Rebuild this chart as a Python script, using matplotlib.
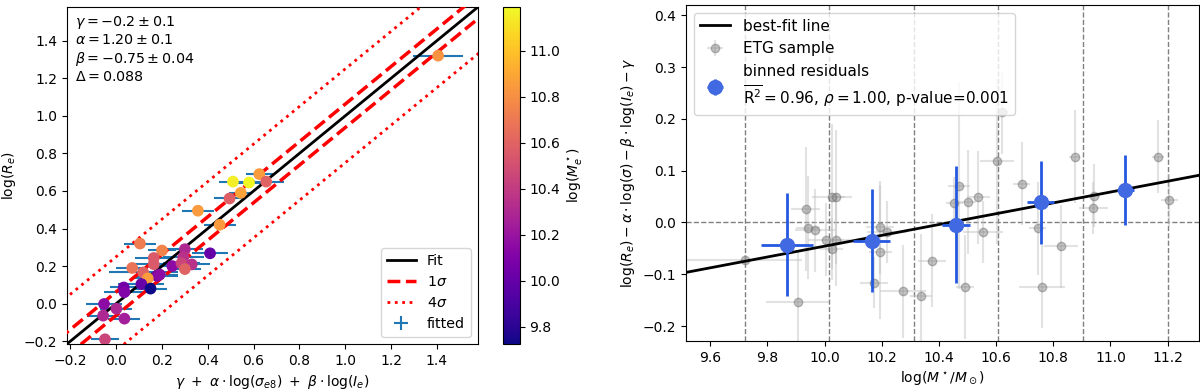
import numpy as np
import matplotlib.pyplot as plt

# Left panel: fitted plane vs observed log(Re)
fit_x = [0.51, 0.58, 0.544, 0.495, 0.357, 0.452, 0.104, 0.20, 0.30, 0.41,
         0.164, 0.293, 0.164, 0.245, 0.285, 0.33, 0.30, 0.07, 0.118, 0.178,
         0.138, 0.19, 0.11, 0.15, 0.033, 0.036, -0.053, 0.001, -0.057, 0.036,
         -0.049, 0.625, 0.655, 1.406]
fit_y = [0.65, 0.645, 0.59, 0.56, 0.495, 0.42, 0.32, 0.283, 0.29, 0.268,
         0.243, 0.247, 0.21, 0.20, 0.215, 0.209, 0.184, 0.19, 0.166, 0.148,
         0.134, 0.155, 0.104, 0.08, 0.086, 0.061, -0.002, -0.027, -0.064, -0.08,
         -0.19, 0.69, 0.65, 1.321]
fit_xerr = [0.06, 0.06, 0.05, 0.07, 0.07, 0.07, 0.07, 0.06, 0.08, 0.08,
            0.08, 0.09, 0.10, 0.09, 0.08, 0.08, 0.07, 0.07, 0.15, 0.09,
            0.07, 0.08, 0.10, 0.07, 0.06, 0.09, 0.08, 0.07, 0.07, 0.07,
            0.06, 0.06, 0.08, 0.11]
fit_yerr = [0.01, 0.01, 0.01, 0.01, 0.01, 0.01, 0.01, 0.01, 0.01, 0.01,
            0.01, 0.01, 0.01, 0.01, 0.01, 0.01, 0.01, 0.01, 0.01, 0.01,
            0.01, 0.01, 0.01, 0.02, 0.01, 0.01, 0.02, 0.02, 0.01, 0.03,
            0.03, 0.01, 0.01, 0.01]
log_mass = [11.15, 11.19, 10.88, 10.58, 10.85, 10.85, 10.72, 10.75, 10.30, 10.00,
            10.55, 10.35, 10.55, 10.15, 10.45, 10.35, 10.60, 10.68, 10.60, 10.10,
            10.85, 10.15, 10.00, 9.725, 10.05, 10.10, 10.15, 10.30, 10.30, 10.25,
            10.45, 10.85, 10.60, 10.82]
sigma = 0.0625

# Right panel: residuals vs stellar mass
etg_m = [9.72, 9.906, 9.933, 9.941, 9.965, 10.003, 10.025, 10.04, 10.04, 10.025,
         10.173, 10.194, 10.217, 10.194, 10.273, 10.337, 10.375, 10.454, 10.47, 10.50,
         10.538, 10.555, 10.491, 10.604, 10.69, 10.746, 10.76, 10.828, 10.875, 10.943,
         10.94, 11.167, 11.206, 10.62]
etg_res = [-0.072, -0.154, 0.026, -0.010, -0.015, -0.033, 0.05, 0.049, -0.033, -0.051,
           -0.116, -0.009, -0.019, -0.057, -0.133, -0.142, -0.074, 0.037, 0.071, 0.04,
           0.049, -0.019, -0.125, 0.118, 0.075, -0.011, -0.124, -0.046, 0.127, 0.052,
           0.028, 0.127, 0.044, 0.213]
etg_merr = [0.2, 0.11, 0.05, 0.04, 0.07, 0.06, 0.07, 0.03, 0.05, 0.04,
            0.05, 0.05, 0.07, 0.04, 0.08, 0.04, 0.05, 0.03, 0.04, 0.03,
            0.04, 0.07, 0.03, 0.06, 0.03, 0.03, 0.08, 0.06, 0.02, 0.02,
            0.05, 0.02, 0.03, 0.02]
etg_rerr = [0.01, 0.10, 0.12, 0.10, 0.08, 0.07, 0.14, 0.13, 0.09, 0.06,
            0.05, 0.09, 0.06, 0.13, 0.09, 0.12, 0.09, 0.05, 0.20, 0.10,
            0.09, 0.06, 0.10, 0.16, 0.08, 0.09, 0.08, 0.08, 0.09, 0.06,
            0.05, 0.07, 0.05, 0.08]

bin_edges = [9.72, 10.016, 10.312, 10.608, 10.904, 11.2]
bin_m = [9.868, 10.164, 10.46, 10.756, 11.052]
bin_res = [-0.043, -0.035, -0.004, 0.039, 0.063]
bin_merr = [0.09, 0.065, 0.05, 0.047, 0.03]
bin_rerr = [0.10, 0.10, 0.113, 0.08, 0.068]
slope, pivot = 0.1045, 10.438

fig = plt.figure(figsize=(12, 3.9), dpi=100)
ax1 = fig.add_axes([0.0558, 0.118, 0.3425, 0.864])
cax = fig.add_axes([0.419, 0.118, 0.0142, 0.864])
ax2 = fig.add_axes([0.5717, 0.1256, 0.4275, 0.8615])

lims = (-0.215, 1.58)
xx = np.array([-0.5, 2.0])
ax1.plot(xx, xx, color='black', lw=2, label='Fit', zorder=3)
ax1.plot(xx, xx + sigma, color='red', ls='--', lw=2.5, label=r'$1\sigma$', zorder=3)
ax1.plot(xx, xx - sigma, color='red', ls='--', lw=2.5, zorder=3)
ax1.plot(xx, xx + 4 * sigma, color='red', ls=':', lw=2, label=r'$4\sigma$', zorder=3)
ax1.plot(xx, xx - 4 * sigma, color='red', ls=':', lw=2, zorder=3)
ax1.errorbar(fit_x, fit_y, xerr=fit_xerr, yerr=fit_yerr, fmt='none',
             ecolor='C0', elinewidth=1.5, label='fitted', zorder=2)
sc = ax1.scatter(fit_x, fit_y, c=log_mass, cmap='plasma', s=55, zorder=4)
ax1.set_xlim(lims)
ax1.set_ylim(lims)
ax1.set_xlabel(r'$\gamma\ +\ \alpha\cdot\log(\sigma_{e8})\ +\ \beta\cdot\log(I_e)$')
ax1.set_ylabel(r'$\log(R_e)$')
ax1.text(0.02, 0.98,
         '$\\gamma = -0.2 \\pm 0.1$\n$\\alpha = 1.20 \\pm 0.1$\n'
         '$\\beta = -0.75 \\pm 0.04$\n$\\Delta = 0.088$',
         transform=ax1.transAxes, va='top', ha='left', fontsize=10.3)
ax1.legend(loc='lower right', fontsize=10.3)
cb = fig.colorbar(sc, cax=cax)
cb.set_label(r'$\log(M_e^\star)$')

# right panel
for e in bin_edges:
    ax2.axvline(e, color='gray', ls='--', lw=1, zorder=0)
ax2.axhline(0, color='gray', ls='--', lw=1, zorder=0)
ax2.errorbar(etg_m, etg_res, xerr=etg_merr, yerr=etg_rerr, fmt='o', ms=6,
             mfc='gray', mec='dimgray', color='gray', ecolor='silver',
             elinewidth=1.5, alpha=0.45, label='ETG sample', zorder=1)
mm = np.array([9.4, 11.4])
ax2.plot(mm, slope * (mm - pivot), color='black', lw=2, label='best-fit line', zorder=3)
bin_label = ('binned residuals\n$\\overline{\\mathrm{R}^2} = 0.96$, '
             '$\\rho = 1.00$, p-value=0.001')
ax2.errorbar(bin_m, bin_res, xerr=bin_merr, yerr=bin_rerr, fmt='o', ms=10,
             color='royalblue', ecolor='#2458e0', elinewidth=2, zorder=4,
             label=bin_label)
ax2.set_xlim(9.515, 11.31)
ax2.set_ylim(-0.229, 0.42)
ax2.set_xlabel(r'$\log(M^\star/M_\odot)$')
ax2.set_ylabel(r'$\log(R_e) - \alpha\cdot\log(\sigma) - \beta\cdot\log(I_e) - \gamma$')
handles, labels = ax2.get_legend_handles_labels()
h = {l: hd for hd, l in zip(handles, labels)}
keys = ['best-fit line', 'ETG sample', bin_label]
ax2.legend([h[k] for k in keys], keys, loc='upper left', fontsize=11)

fig.savefig('out.png', dpi=100)
